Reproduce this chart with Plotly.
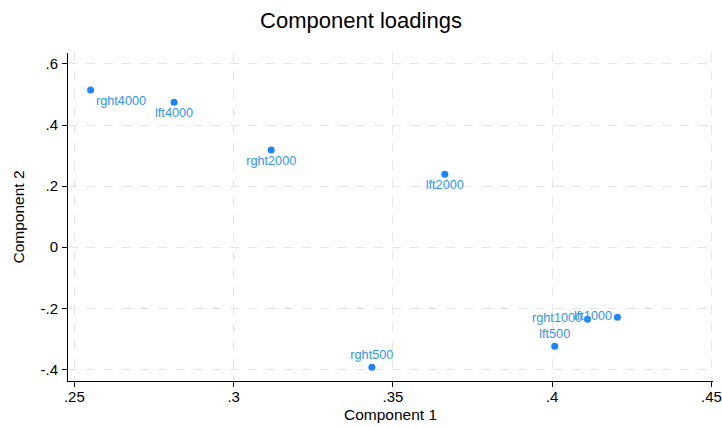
import plotly.graph_objects as go

names = ["rght4000", "lft4000", "rght2000", "lft2000", "rght500", "lft500", "rght1000", "lft1000"]
comp1 = [0.2551, 0.2813, 0.3118, 0.3663, 0.3434, 0.4008, 0.4111, 0.4205]
comp2 = [0.515, 0.475, 0.318, 0.239, -0.393, -0.324, -0.236, -0.229]
positions = ["bottom right", "bottom center", "bottom center", "bottom center",
             "top center", "top center", "middle left", "middle left"]

xticks = [0.25, 0.3, 0.35, 0.4, 0.45]
xticklabels = [".25", ".3", ".35", ".4", ".45"]
yticks = [0.6, 0.4, 0.2, 0, -0.2, -0.4]
yticklabels = [".6", ".4", ".2", "0", "-.2", "-.4"]

blue = "#1a85ff"

fig = go.Figure(go.Scatter(
    x=comp1, y=comp2, mode="markers+text", text=names,
    textposition=positions,
    marker=dict(color=blue, size=7),
    textfont=dict(color="#3392ff", size=12.7, family="Liberation Sans, Arial, sans-serif"),
    cliponaxis=False, showlegend=False,
))

axis_common = dict(
    showline=True, linecolor="black", linewidth=1,
    ticks="outside", ticklen=5, tickcolor="black",
    showgrid=True, gridcolor="#e6e6e6", griddash="dash", gridwidth=1,
    zeroline=False, tickfont=dict(size=15, color="black"),
    title_font=dict(size=15.5, color="black"), automargin=False,
)

fig.update_xaxes(range=[0.248, 0.4505], tickvals=xticks, ticktext=xticklabels,
                 title_text="Component 1", title_standoff=5, ticklabelstandoff=-3,
                 **axis_common)
fig.update_yaxes(range=[-0.438, 0.636], tickvals=yticks, ticktext=yticklabels,
                 title_text="Component 2", title_standoff=12, ticklabelstandoff=1,
                 **axis_common)

fig.update_layout(
    width=722, height=427,
    margin=dict(l=68, r=9, t=53, b=46),
    paper_bgcolor="white", plot_bgcolor="white",
    font=dict(family="Liberation Sans, Arial, sans-serif", color="black"),
    title=dict(text="Component loadings", x=0.5, xanchor="center", y=0.953, yanchor="middle",
               font=dict(size=22, color="black")),
)

fig.write_html("out.html", config={"displayModeBar": False},
               post_script="document.body.style.margin='0';document.body.style.padding='0';document.body.style.overflow='hidden';")
